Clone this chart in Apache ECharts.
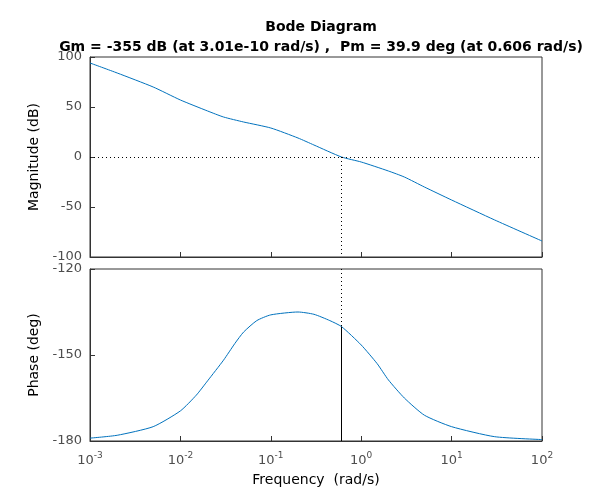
<!DOCTYPE html>
<html><head><meta charset="utf-8">
<script src="https://cdn.jsdelivr.net/npm/echarts@6/dist/echarts.min.js"></script>
<style>html,body{margin:0;background:#fff}#c{width:600px;height:500px}</style>
</head><body><div id="c"></div>
<script>
var freqs = [0.001, 0.002, 0.005, 0.01, 0.02, 0.03, 0.05, 0.1, 0.2, 0.3, 0.606, 1, 2, 3, 5, 10, 30, 100]
var magDb = [94, 84, 70, 57, 46, 40, 35, 29, 19, 12, 0, -5, -14, -20, -30, -43, -63, -84]
var phFreqs = [0.001, 0.002, 0.005, 0.01, 0.015, 0.02, 0.03, 0.04, 0.05, 0.07, 0.1, 0.2, 0.3, 0.45, 0.606, 1, 1.5, 2, 3, 5, 10, 30, 100]
var phaseDeg = [-179, -178, -175, -169.5, -164, -159, -151.8, -146, -142, -138, -136, -135, -135.8, -138, -140.1, -146.5, -153, -158.7, -165, -171, -175, -178.5, -179.5]
var gmText = 'Gm = -355 dB (at 3.01e-10 rad/s) ,  Pm = 39.9 deg (at 0.606 rad/s)'
var wc = 0.606, pmPhase = -140.1

var font = 'DejaVu Sans'
var lineColor = '#0072bd'
function pairs(x, y) { return x.map(function (v, i) { return [v, y[i]] }) }
function logLabel(v) { return '10{s|' + Math.round(Math.log10(v)) + '}' }

function xAxis(idx, labels, name) {
  return {
    type: 'log', gridIndex: idx, min: 0.001, max: 100, logBase: 10,
    axisLine: { onZero: false, lineStyle: { color: '#333' } },
    axisTick: { inside: true, length: 5, lineStyle: { color: '#333' } },
    splitLine: { show: false },
    axisLabel: labels ? { formatter: logLabel, color: '#4d4d4d', fontFamily: font, fontSize: 13, margin: 10,
      rich: { s: { fontSize: 9, verticalAlign: 'top', padding: [0, 0, 10, 0], color: '#4d4d4d', fontFamily: font } } } : { show: false },
    name: name || '', nameLocation: 'middle', nameGap: 32,
    nameTextStyle: { fontFamily: font, fontSize: 14, color: '#000' }
  }
}
function yAxis(idx, min, max, interval, name) {
  return {
    type: 'value', gridIndex: idx, min: min, max: max, interval: interval,
    axisLine: { show: true, onZero: false, lineStyle: { color: '#333' } },
    axisTick: { inside: true, length: 5, lineStyle: { color: '#333' } },
    splitLine: { show: false },
    axisLabel: { color: '#4d4d4d', fontFamily: font, fontSize: 13 },
    name: name, nameLocation: 'middle', nameGap: 40,
    nameTextStyle: { fontFamily: font, fontSize: 14, color: '#000' }
  }
}

var chart = echarts.init(document.getElementById('c'))
chart.setOption({
  animation: false,
  title: {
    text: 'Bode Diagram\n' + gmText, left: 316, top: 12, textAlign: 'center',
    textStyle: { fontFamily: font, fontSize: 14, fontWeight: 'bold', color: '#000', lineHeight: 20 }
  },
  grid: [
    { left: 90, right: 58, top: 57, height: 200, show: true, borderColor: '#333', borderWidth: 1 },
    { left: 90, right: 58, top: 269, height: 172, show: true, borderColor: '#333', borderWidth: 1 }
  ],
  xAxis: [xAxis(0, false), xAxis(1, true, 'Frequency  (rad/s)')],
  yAxis: [yAxis(0, -100, 100, 50, 'Magnitude (dB)'), yAxis(1, -180, -120, 30, 'Phase (deg)')],
  series: [
    {
      type: 'line', xAxisIndex: 0, yAxisIndex: 0, data: pairs(freqs, magDb), smooth: 0.2,
      showSymbol: false, lineStyle: { color: lineColor, width: 1 },
      markLine: { symbol: 'none', silent: true, label: { show: false },
        lineStyle: { color: '#000', type: [1, 3], width: 1 },
        data: [{ yAxis: 0 }, [{ coord: [wc, 0] }, { coord: [wc, -100] }]] }
    },
    {
      type: 'line', xAxisIndex: 1, yAxisIndex: 1, data: pairs(phFreqs, phaseDeg), smooth: 0.2,
      showSymbol: false, lineStyle: { color: lineColor, width: 1 },
      markLine: { symbol: 'none', silent: true, label: { show: false },
        data: [
          [{ coord: [wc, -120], lineStyle: { color: '#000', type: [1, 3], width: 1 } }, { coord: [wc, pmPhase] }],
          [{ coord: [wc, pmPhase], lineStyle: { color: '#000', type: 'solid', width: 1 } }, { coord: [wc, -180] }]
        ] }
    }
  ]
})
</script></body></html>
